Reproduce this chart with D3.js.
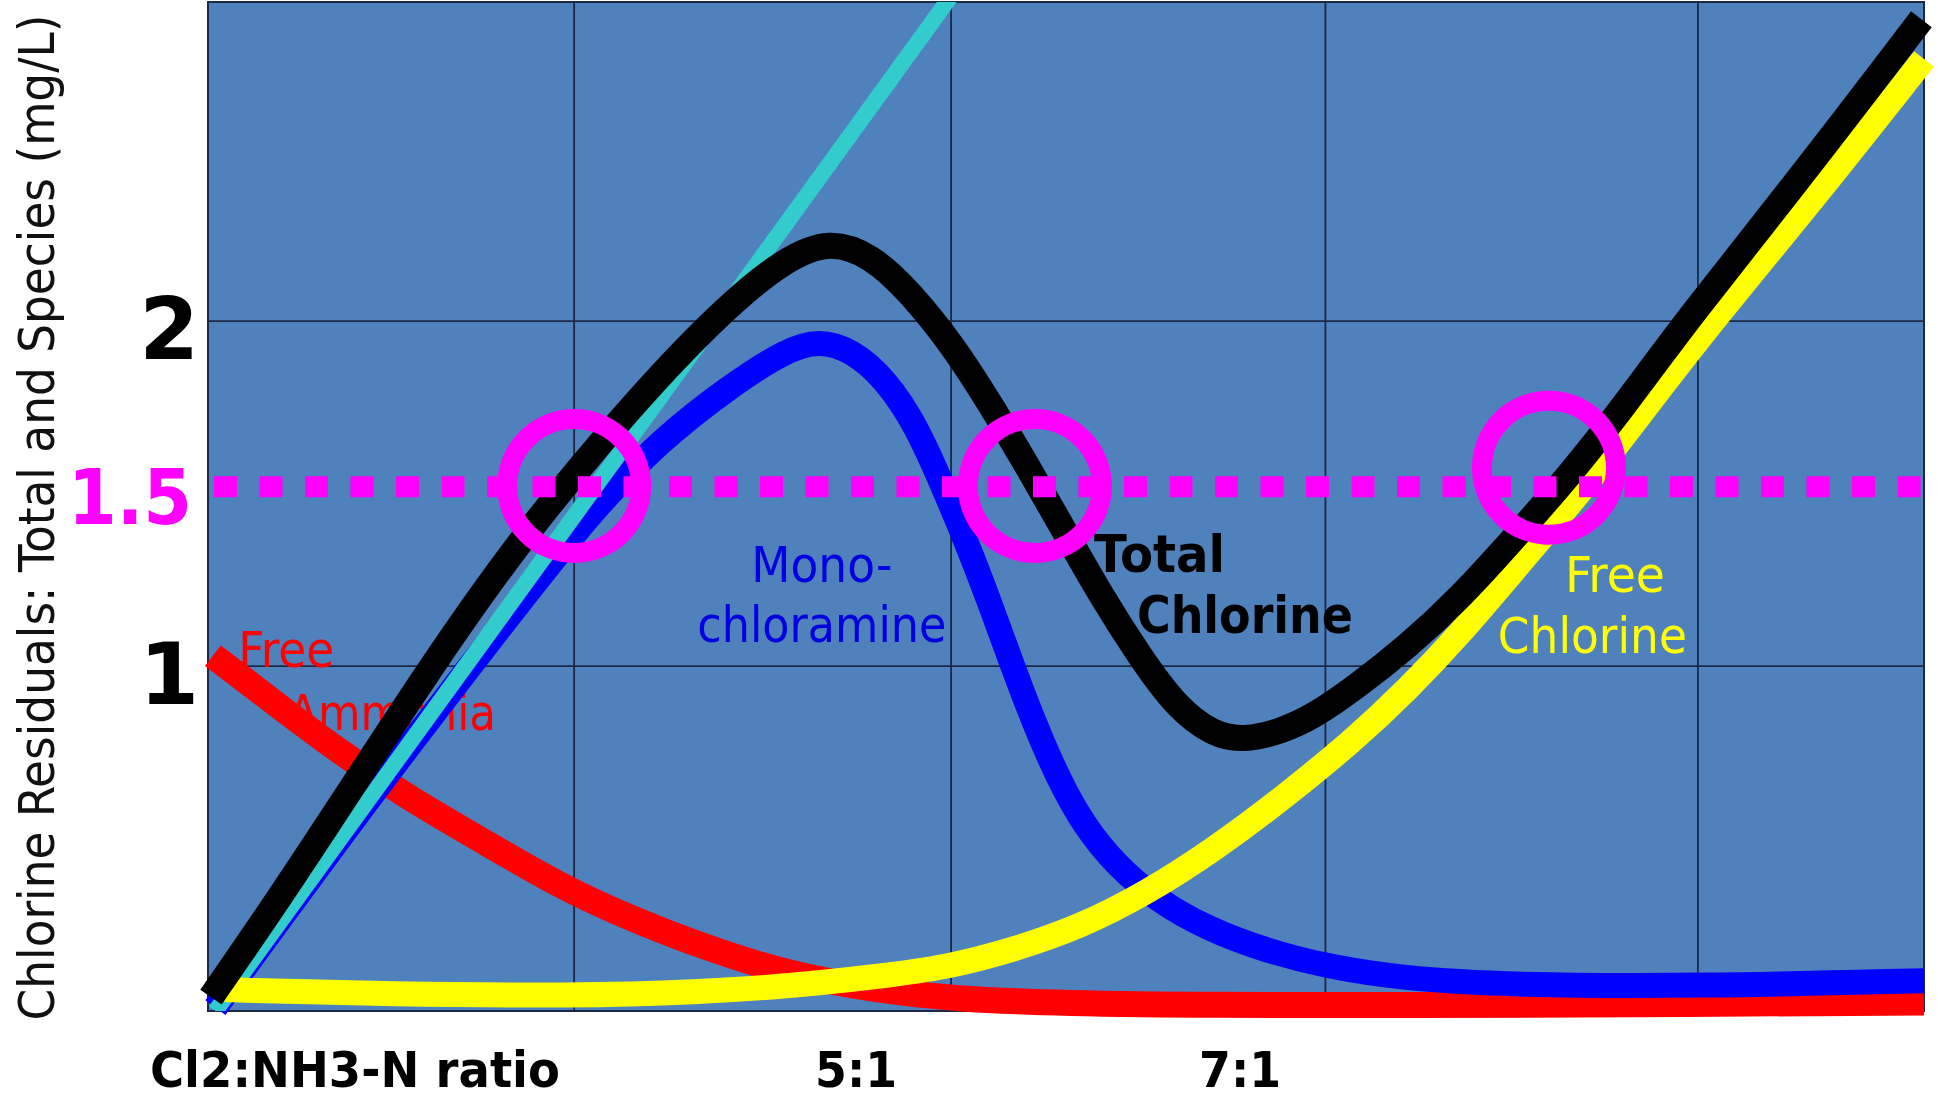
<!DOCTYPE html>
<html>
<head>
<meta charset="utf-8">
<script src="https://cdn.jsdelivr.net/npm/d3@7"></script>
<style>
  html, body { margin: 0; padding: 0; background: #ffffff; }
  svg { display: block; }
  text { font-family: "DejaVu Sans Condensed", "DejaVu Sans", Verdana, sans-serif; font-stretch: condensed; }
  text.wide { font-family: "DejaVu Sans", Verdana, sans-serif; font-stretch: normal; }
</style>
</head>
<body>
<script>
// ---------- DATA (schematic x units: one gridline step = 1; y in mg/L) ----------
const totalChlorine = [
  [0.008, 0.040], [0.20, 0.34], [0.40, 0.67], [0.60, 1.00], [0.80, 1.31],
  [1.00, 1.58], [1.20, 1.83], [1.40, 2.05], [1.55, 2.18], [1.67, 2.235],
  [1.78, 2.19], [1.88, 2.09], [2.00, 1.93], [2.10, 1.76], [2.20, 1.58],
  [2.30, 1.39], [2.40, 1.20], [2.50, 1.03], [2.60, 0.88], [2.70, 0.80],
  [2.78, 0.785], [2.88, 0.81], [2.97, 0.855], [3.077, 0.935], [3.219, 1.055],
  [3.364, 1.20], [3.506, 1.37], [3.651, 1.548], [3.794, 1.742], [3.968, 2.00],
  [4.30, 2.45], [4.60, 2.875]
];
const monochloramine = [
  [0.02, 0.01], [0.46, 0.66], [0.84, 1.19], [1.03, 1.45], [1.22, 1.66],
  [1.40, 1.81], [1.55, 1.915], [1.64, 1.945], [1.73, 1.915], [1.82, 1.83],
  [1.90, 1.70], [1.97, 1.53], [2.04, 1.35], [2.10, 1.18], [2.16, 1.00],
  [2.22, 0.83], [2.28, 0.68], [2.35, 0.54], [2.44, 0.42], [2.55, 0.32],
  [2.68, 0.24], [2.84, 0.175], [3.00, 0.13], [3.20, 0.095], [3.50, 0.075],
  [4.00, 0.072], [4.607, 0.088]
];
const freeAmmonia = [
  [0.013, 1.03], [0.17, 0.90], [0.36, 0.745], [0.55, 0.61], [0.75, 0.485],
  [0.94, 0.365], [1.13, 0.27], [1.32, 0.19], [1.56, 0.105], [1.80, 0.06],
  [2.00, 0.035], [2.30, 0.022], [2.70, 0.017], [3.20, 0.017], [4.00, 0.02],
  [4.607, 0.025]
];
const freeChlorine = [
  [0.045, 0.062], [0.50, 0.048], [0.98, 0.044], [1.32, 0.055], [1.56, 0.072],
  [1.80, 0.10], [1.99, 0.128], [2.16, 0.177], [2.34, 0.243], [2.52, 0.342],
  [2.70, 0.467], [2.88, 0.612], [3.077, 0.786], [3.219, 0.93], [3.364, 1.096],
  [3.506, 1.278], [3.651, 1.461], [3.794, 1.655], [4.00, 1.95], [4.30, 2.34],
  [4.607, 2.76]
];
const chlorineDose = [[0.02, 0.0], [2.0, 2.95]];

const gridX = [0.983, 1.995, 3.0, 4.0];
const yTickValues = [1, 2];
const yTickLabels = ["1", "2"];
const targetLevel = 1.52;
const targetLabel = "1.5";
const highlightPoints = [[0.983, 1.522], [2.220, 1.522], [3.600, 1.575]];
const xTickPositions = [1.740, 2.771];
const xTickLabels = ["5:1", "7:1"];
const xAxisTitle = "Cl2:NH3-N ratio";
const yAxisTitle = "Chlorine Residuals: Total and Species (mg/L)";

// ---------- LAYOUT ----------
const W = 1940, H = 1099;
const plot = { left: 208, right: 1924, top: 2, bottom: 1011 };
const x = d3.scaleLinear().domain([0, 4.607]).range([plot.left, plot.right]);
const y = d3.scaleLinear().domain([0, 2.925]).range([plot.bottom, plot.top]);

const svg = d3.select("body").append("svg").attr("width", W).attr("height", H);

svg.append("defs").append("clipPath").attr("id", "plotClip")
  .append("rect").attr("x", plot.left).attr("y", plot.top)
  .attr("width", plot.right - plot.left).attr("height", plot.bottom - plot.top);

// background
svg.append("rect").attr("x", plot.left).attr("y", plot.top)
  .attr("width", plot.right - plot.left).attr("height", plot.bottom - plot.top)
  .attr("fill", "#4f81bd");

// gridlines
const gridColor = "#1c2846";
svg.append("g").selectAll("line").data(gridX).join("line")
  .attr("x1", d => x(d)).attr("x2", d => x(d))
  .attr("y1", plot.top).attr("y2", plot.bottom)
  .attr("stroke", gridColor).attr("stroke-width", 1.8);
svg.append("g").selectAll("line").data(yTickValues).join("line")
  .attr("x1", plot.left).attr("x2", plot.right)
  .attr("y1", d => y(d)).attr("y2", d => y(d))
  .attr("stroke", gridColor).attr("stroke-width", 1.8);
svg.append("rect").attr("x", plot.left).attr("y", plot.top)
  .attr("width", plot.right - plot.left).attr("height", plot.bottom - plot.top)
  .attr("fill", "none").attr("stroke", gridColor).attr("stroke-width", 2);

// y tick labels
svg.append("g").selectAll("text").data(yTickValues).join("text")
  .attr("class", "wide")
  .attr("x", 199).attr("y", d => y(d) + 38)
  .attr("text-anchor", "end").attr("font-weight", "bold").attr("font-size", 86)
  .attr("fill", "#000").text((d, i) => yTickLabels[i]);
svg.append("text").attr("x", 192).attr("y", y(targetLevel) + 37)
  .attr("text-anchor", "end").attr("font-weight", "bold").attr("font-size", 77)
  .attr("textLength", 124).attr("lengthAdjust", "spacingAndGlyphs")
  .attr("fill", "#ff00ff").text(targetLabel);

// y axis title
svg.append("text").attr("transform", `translate(54, ${(plot.top + plot.bottom) / 2 + 11}) rotate(-90)`)
  .attr("text-anchor", "middle").attr("font-size", 50)
  .attr("textLength", 1006).attr("lengthAdjust", "spacingAndGlyphs")
  .attr("fill", "#111").text(yAxisTitle);

// x labels
svg.append("text").attr("x", 150).attr("y", 1087)
  .attr("font-weight", "bold").attr("font-size", 50)
  .attr("textLength", 410).attr("lengthAdjust", "spacingAndGlyphs")
  .attr("fill", "#000").text(xAxisTitle);
svg.append("g").selectAll("text").data(xTickPositions).join("text")
  .attr("x", d => x(d)).attr("y", 1087).attr("text-anchor", "middle")
  .attr("font-weight", "bold").attr("font-size", 50)
  .attr("textLength", 82).attr("lengthAdjust", "spacingAndGlyphs")
  .attr("fill", "#000").text((d, i) => xTickLabels[i]);

// series annotations (anchored in data space)
const annotations = [
  { t: "Free", at: [0.081, 0.997], anchor: "start", c: "#ff0000", w: "normal", len: 96 },
  { t: "Ammonia", at: [0.215, 0.814], anchor: "start", c: "#ff0000", w: "normal", len: 208 },
  { t: "Mono-", at: [1.648, 1.243], anchor: "middle", c: "#0000e0", w: "normal", len: 141 },
  { t: "chloramine", at: [1.648, 1.070], anchor: "middle", c: "#0000e0", w: "normal", len: 249 },
  { t: "Total", at: [2.379, 1.272], anchor: "start", c: "#000000", w: "bold", len: 131 },
  { t: "Chlorine", at: [2.494, 1.096], anchor: "start", c: "#000000", w: "bold", len: 216 },
  { t: "Free", at: [3.643, 1.214], anchor: "start", c: "#ffff00", w: "normal", len: 100 },
  { t: "Chlorine", at: [3.463, 1.038], anchor: "start", c: "#ffff00", w: "normal", len: 189 }
];
svg.append("g").selectAll("text").data(annotations).join("text")
  .attr("x", d => x(d.at[0])).attr("y", d => y(d.at[1]))
  .attr("text-anchor", d => d.anchor).attr("font-weight", d => d.w)
  .attr("font-size", d => d.w === "bold" ? 52 : 50)
  .attr("textLength", d => d.len).attr("lengthAdjust", "spacingAndGlyphs")
  .attr("fill", d => d.c).text(d => d.t);

// curves
const line = d3.line().x(d => x(d[0])).y(d => y(d[1])).curve(d3.curveBasis);
const curves = svg.append("g").attr("fill", "none");
curves.append("path").datum(freeAmmonia).attr("d", line)
  .attr("stroke", "#ff0000").attr("stroke-width", 26);
curves.append("path").datum(monochloramine).attr("d", line)
  .attr("stroke", "#0000ff").attr("stroke-width", 25);
curves.append("path").datum(chlorineDose).attr("d", d3.line().x(d => x(d[0])).y(d => y(d[1])))
  .attr("clip-path", "url(#plotClip)")
  .attr("stroke", "#33cccc").attr("stroke-width", 16);
curves.append("path").datum(freeChlorine).attr("d", line)
  .attr("stroke", "#ffff00").attr("stroke-width", 25);

// target level and highlight circles
svg.append("line").attr("x1", plot.left).attr("x2", plot.right)
  .attr("y1", y(targetLevel)).attr("y2", y(targetLevel))
  .attr("stroke", "#ff00ff").attr("stroke-width", 21)
  .attr("stroke-dasharray", "23 22.5").attr("stroke-dashoffset", 39.5);
svg.append("g").selectAll("circle").data(highlightPoints).join("circle")
  .attr("cx", d => x(d[0])).attr("cy", d => y(d[1])).attr("r", 67)
  .attr("fill", "none").attr("stroke", "#ff00ff").attr("stroke-width", 20);

curves.append("path").datum(totalChlorine).attr("d", line)
  .attr("stroke", "#000000").attr("stroke-width", 26);
</script>
</body>
</html>
